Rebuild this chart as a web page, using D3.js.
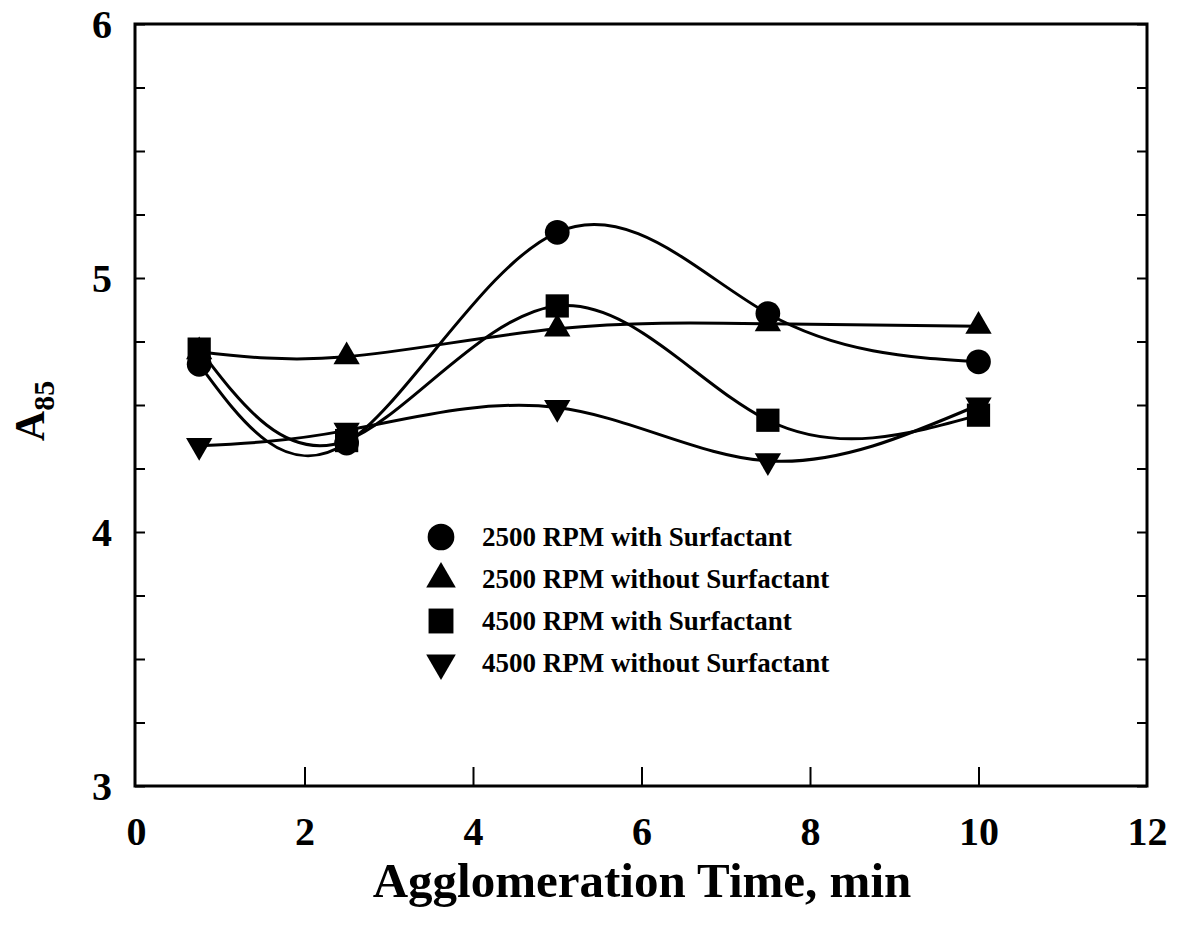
<!doctype html>
<html>
  <head>
    <style>
      body { margin: 0; background: #fff; }
      svg text { font-family: "Liberation Serif", "Times New Roman", serif; font-weight: bold; fill: #000; }
    </style>
  </head>
  <body>
    <svg id="chart" width="1180" height="932"></svg>
    <script src="https://d3js.org/d3.v7.min.js"></script>
    <script>
      // agglomeration time (min)
      var times = [0.75, 2.5, 5, 7.5, 10];
      // A85 values
      var rpm2500With = [4.66, 4.35, 5.18, 4.86, 4.67];
      var rpm2500Without = [4.71, 4.69, 4.80, 4.82, 4.81];
      var rpm4500With = [4.72, 4.36, 4.89, 4.44, 4.46];
      var rpm4500Without = [4.34, 4.40, 4.49, 4.28, 4.50];
      var seriesNames = ["2500 RPM with Surfactant", "2500 RPM without Surfactant",
                         "4500 RPM with Surfactant", "4500 RPM without Surfactant"];
      var xTicks = [0, 2, 4, 6, 8, 10, 12];
      var yTicks = [3, 4, 5, 6];

      var plotL = 135, plotR = 1147, plotT = 24, plotB = 786;

      var x = d3.scaleLinear().domain([0, 12]).range([plotL + 1, plotR]);
      var y = d3.scaleLinear().domain([3, 6]).range([plotB, plotT]);

      var svg = d3.select("#chart");

      var series = [
        { name: seriesNames[0], values: rpm2500With, symbol: d3.symbolCircle, size: 480, rot: 0 },
        { name: seriesNames[1], values: rpm2500Without, symbol: d3.symbolTriangle, size: 300, rot: 0 },
        { name: seriesNames[2], values: rpm4500With, symbol: d3.symbolSquare, size: 540, rot: 0 },
        { name: seriesNames[3], values: rpm4500Without, symbol: d3.symbolTriangle, size: 300, rot: 180 }
      ];

      // minor y ticks, left and right, inward
      var minor = d3.range(3, 6.001, 0.25);
      svg.append("g")
          .attr("transform", "translate(" + plotL + ",0)")
          .call(d3.axisLeft(y).tickValues(minor).tickSize(-10).tickFormat(""))
          .call(function(g) { g.select(".domain").remove(); });
      svg.append("g")
          .attr("transform", "translate(" + plotR + ",0)")
          .call(d3.axisRight(y).tickValues(minor).tickSize(-10).tickFormat(""))
          .call(function(g) { g.select(".domain").remove(); });

      // y labels
      svg.append("g")
          .attr("transform", "translate(" + plotL + ",0)")
          .call(d3.axisLeft(y).tickValues(yTicks).tickSize(0).tickPadding(23).tickFormat(d3.format("d")))
          .call(function(g) {
            g.select(".domain").remove();
            g.selectAll("text").attr("font-size", 40).attr("font-family", null).attr("dy", "0.34em");
          });

      // x ticks + labels
      svg.append("g")
          .attr("transform", "translate(0," + plotB + ")")
          .call(d3.axisBottom(x).tickValues(xTicks).tickSizeInner(-19).tickSizeOuter(0).tickPadding(47).tickFormat(d3.format("d")))
          .call(function(g) {
            g.select(".domain").remove();
            g.selectAll("text").attr("font-size", 40).attr("font-family", null).attr("dy", "0.3em");
            g.selectAll(".tick").filter(function(d) { return d === 0 || d === 12; }).select("line").remove();
          });

      svg.selectAll(".tick line").attr("stroke", "#000").attr("stroke-width", 2);

      // frame
      svg.append("rect")
          .attr("x", plotL).attr("y", plotT)
          .attr("width", plotR - plotL).attr("height", plotB - plotT)
          .attr("fill", "none").attr("stroke", "#000").attr("stroke-width", 3);

      // smooth lines
      var line = d3.line()
          .x(function(d, i) { return x(times[i]); })
          .y(function(d) { return y(d); })
          .curve(d3.curveNatural);

      svg.selectAll(".series")
        .data(series)
        .enter().append("path")
          .attr("class", "series")
          .attr("d", function(s) { return line(s.values); })
          .attr("fill", "none")
          .attr("stroke", "#000")
          .attr("stroke-width", 3);

      // markers
      series.forEach(function(s) {
        svg.selectAll(null)
          .data(s.values)
          .enter().append("path")
            .attr("d", d3.symbol().type(s.symbol).size(s.size))
            .attr("transform", function(d, i) {
              return "translate(" + x(times[i]) + "," + y(d) + ") rotate(" + s.rot + ")";
            })
            .attr("fill", "#000");
      });

      // legend
      var legend = svg.append("g").attr("transform", "translate(441,537)");
      series.forEach(function(s, i) {
        legend.append("path")
            .attr("d", d3.symbol().type(s.symbol).size(s.size + 80))
            .attr("transform", "translate(0," + (i * 42) + ") rotate(" + s.rot + ")")
            .attr("fill", "#000");
        legend.append("text")
            .attr("x", 41).attr("y", i * 42 + 9)
            .attr("font-size", 27)
            .text(s.name);
      });

      // axis titles
      svg.append("text")
          .attr("x", 642).attr("y", 897)
          .attr("text-anchor", "middle")
          .attr("font-size", 49)
          .text("Agglomeration Time, min");

      var yTitle = svg.append("text")
          .attr("transform", "translate(44,411) rotate(-90)")
          .attr("text-anchor", "middle")
          .attr("font-size", 42);
      yTitle.append("tspan").text("A");
      yTitle.append("tspan").attr("font-size", 30).attr("dy", 10).text("85");
    </script>
  </body>
</html>
